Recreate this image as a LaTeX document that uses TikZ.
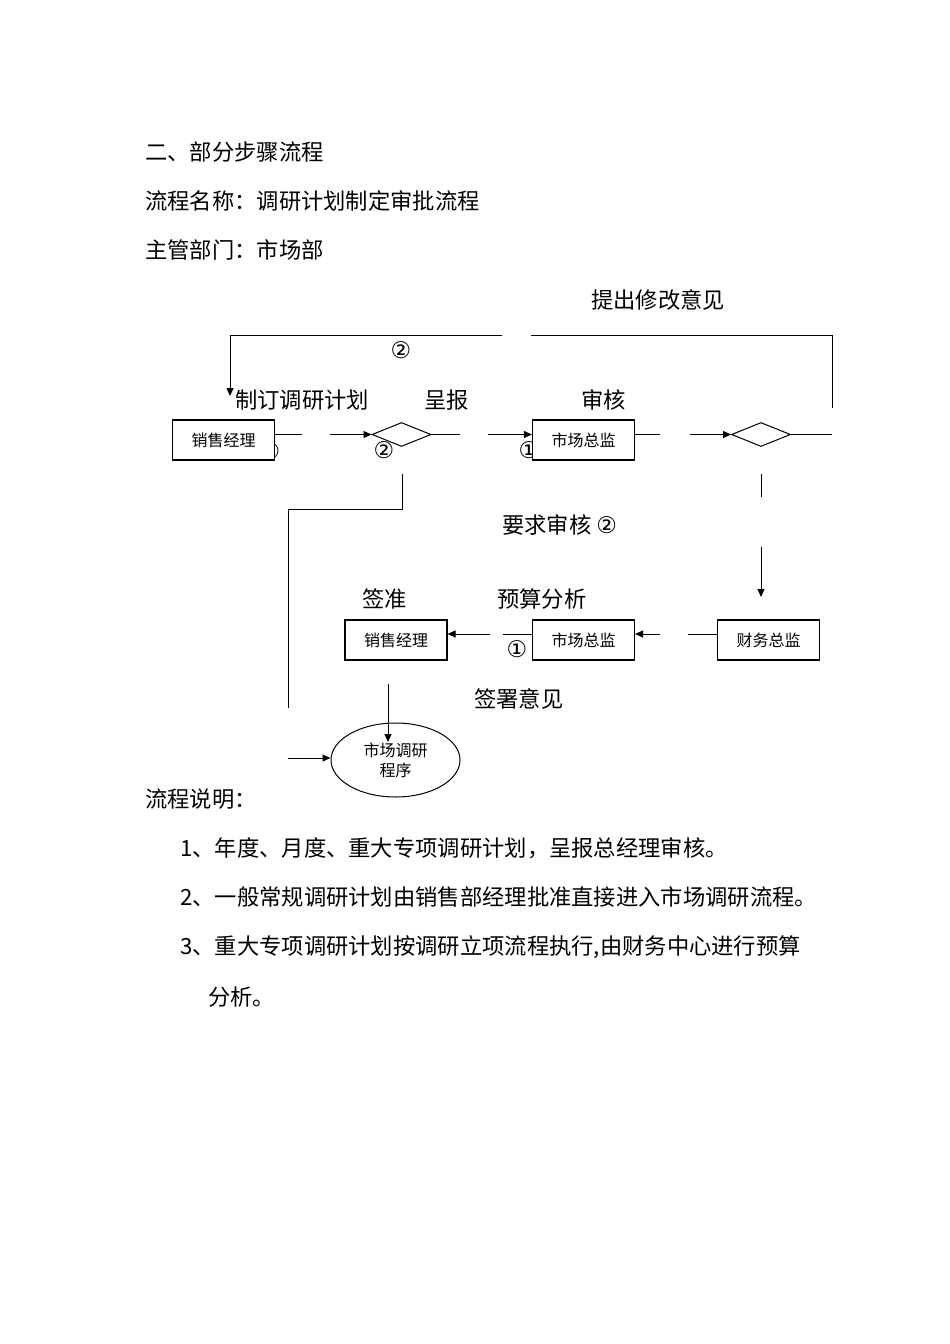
\documentclass[tikz,border=0pt]{standalone}
\usepackage{fontspec}
\setmainfont{Noto Sans CJK SC}
\newfontfamily\circfont{DejaVu Sans}
\usetikzlibrary{shapes.geometric,arrows.meta}
\begin{document}
\begin{tikzpicture}[x=1pt,y=-1pt,
  lbl/.style={anchor=west,inner sep=0pt,font=\fontsize{22.3}{25}\selectfont},
  num/.style={inner sep=0pt,font=\circfont\fontsize{23}{25}\selectfont},
  box/.style={draw,fill=white,line width=1.1pt,minimum width=102pt,minimum height=40pt,inner sep=0pt,font=\fontsize{16}{18}\selectfont},
  dia/.style={draw,diamond,line width=1pt,minimum width=59pt,minimum height=24pt,inner sep=0pt},
  ln/.style={line width=1pt},
  arr/.style={line width=1pt,-{Triangle[length=8pt,width=7pt]}}]
\useasboundingbox (0,0) rectangle (950,1344);

% headings
\node[lbl] (h1) at (145,152) {二、部分步骤流程};
\node[lbl] (h2) at (145,201) {流程名称：调研计划制定审批流程};
\node[lbl] (h3) at (145,250) {主管部门：市场部};

% diagram labels
\node[lbl] (tmod) at (591,300) {提出修改意见};
\node[num] (n2a) at (401,350) {②};
\node[lbl] (tplan) at (235,400) {制订调研计划};
\node[lbl] (tsub) at (424,400) {呈报};
\node[lbl] (trev) at (581,400) {审核};
\node[lbl] (treq) at (502,525) {要求审核 {\circfont\fontsize{23}{25}\selectfont ②}};
\node[lbl] (tsign) at (362,599) {签准};
\node[lbl] (tbud) at (497,599) {预算分析};
\node[lbl] (topin) at (474,699) {签署意见};

% partially hidden circled numbers (behind boxes)
\node[num] (n1hidden) at (270,451) {①};
\node[num] (n1b) at (529,450) {①};
\node[num] (n2b) at (384,450) {②};
\node[num] (n1c) at (517,649) {①};

% nodes
\node[box] (sm1) at (223.5,440) {销售经理};
\node[dia] (d1) at (401.5,434.5) {};
\node[box] (sc1) at (583.5,440) {市场总监};
\node[dia] (d2) at (761,434.5) {};
\node[box] (sm2) at (396,640) {销售经理};
\node[box] (sc2) at (583.5,640) {市场总监};
\node[box] (cw) at (768.5,640) {财务总监};
\node[draw,ellipse,line width=1pt,minimum width=129pt,minimum height=74pt,inner sep=0pt,align=center,font=\fontsize{16}{20}\selectfont] (ell) at (395.5,760) {市场调研\\程序};

% free ends
\coordinate (a1) at (302,434.5);
\coordinate (a2) at (330,434.5);
\coordinate (a3) at (460,434.5);
\coordinate (a4) at (488,434.5);
\coordinate (a5) at (660,434.5);
\coordinate (a6) at (690,434.5);
\coordinate (a7) at (832,434.5);
\coordinate (r1) at (832,408);
\coordinate (r2) at (531,335);
\coordinate (l1) at (502,335);
\coordinate (l2) at (230,396);
\coordinate (v1) at (402,474);
\coordinate (v2) at (402,509);
\coordinate (v3) at (288,708);
\coordinate (e1) at (288,758);
\coordinate (w1) at (761,474);
\coordinate (w2) at (761,497);
\coordinate (w3) at (761,547);
\coordinate (w4) at (761,597);
\coordinate (b1) at (490,634);
\coordinate (b2) at (503,634);
\coordinate (b3) at (660,634);
\coordinate (b4) at (688,634);
\coordinate (s1) at (388,684);
\coordinate (s2) at (388,742);

% top row connectors
\draw[ln] (sm1.east |- a1) -- (a1);
\draw[arr] (a2) -- (d1.west);
\draw[ln] (d1.east) -- (a3);
\draw[arr] (a4) -- (sc1.west |- a4);
\draw[ln] (sc1.east |- a5) -- (a5);
\draw[arr] (a6) -- (d2.west);
\draw[ln] (d2.east) -- (a7);

% feedback loop
\draw[ln] (r1) |- (r2);
\draw[arr] (l1) -| (l2);

% first diamond down to process
\draw[ln] (v1) -- (v2) -| (v3);
\draw[arr] (e1) -- (e1 -| ell.west);

% second diamond down
\draw[ln] (w1) -- (w2);
\draw[arr] (w3) -- (w4);

% lower row
\draw[arr] (b1) -- (sm2.east |- b1);
\draw[ln] (b2) -- (sc2.west |- b2);
\draw[arr] (b3) -- (sc2.east |- b3);
\draw[ln] (b4) -- (cw.west |- b4);
\draw[arr] (s1) -- (s2);

% explanation
\node[lbl] (x0) at (145,799) {流程说明：};
\node[lbl] (x1) at (180,848) {1、年度、月度、重大专项调研计划，呈报总经理审核。};
\node[lbl] (x2) at (180,897) {2、一般常规调研计划由销售部经理批准直接进入市场调研流程。};
\node[lbl] (x3) at (180,947) {3、重大专项调研计划按调研立项流程执行,由财务中心进行预算};
\node[lbl] (x4) at (208,997) {分析。};
\end{tikzpicture}
\end{document}
